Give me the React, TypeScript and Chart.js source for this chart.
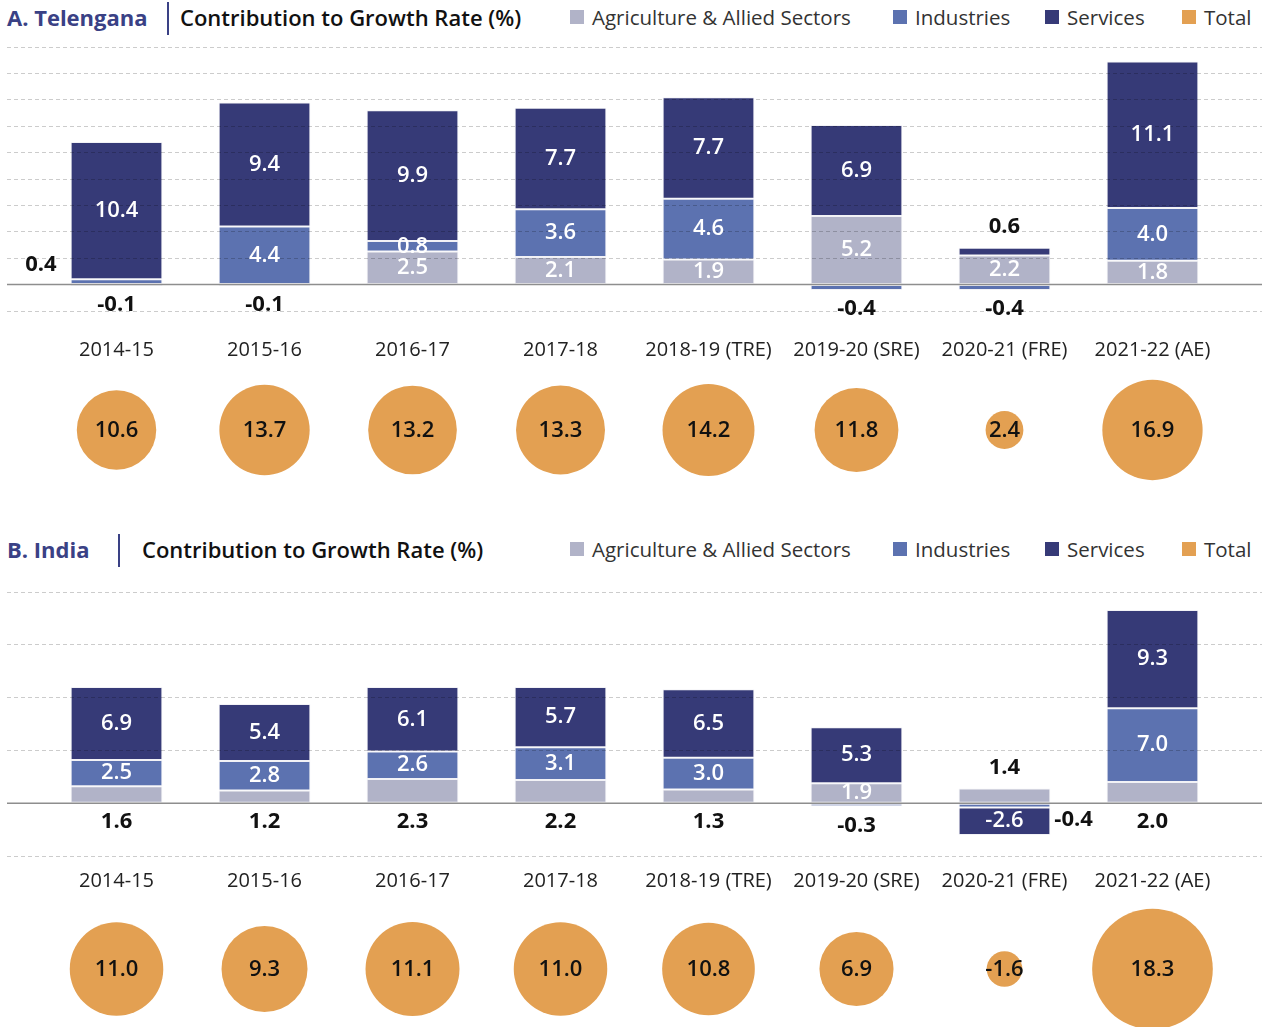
import React, { useEffect, useRef } from 'react';
import { Chart, registerables } from 'chart.js';
Chart.register(...registerables);

const categories = ['2014-15', '2015-16', '2016-17', '2017-18', '2018-19 (TRE)', '2019-20 (SRE)', '2020-21 (FRE)', '2021-22 (AE)'];
const seriesNames = ['Agriculture & Allied Sectors', 'Industries', 'Services', 'Total'];

// A. Telangana
const teAgri = [-0.1, -0.1, 2.5, 2.1, 1.9, 5.2, 2.2, 1.8];
const teInd = [0.4, 4.4, 0.8, 3.6, 4.6, -0.4, -0.4, 4.0];
const teServ = [10.4, 9.4, 9.9, 7.7, 7.7, 6.9, 0.6, 11.1];
const teTotal = [10.6, 13.7, 13.2, 13.3, 14.2, 11.8, 2.4, 16.9];

// B. India
const inAgri = [1.6, 1.2, 2.3, 2.2, 1.3, 1.9, 1.4, 2.0];
const inInd = [2.5, 2.8, 2.6, 3.1, 3.0, -0.3, -0.4, 7.0];
const inServ = [6.9, 5.4, 6.1, 5.7, 6.5, 5.3, -2.6, 9.3];
const inTotal = [11.0, 9.3, 11.1, 11.0, 10.8, 6.9, -1.6, 18.3];

type Pos = 'in' | 'below' | 'above' | 'left' | 'right';
// label placement per dataset (agri, industries, services)
const teLabelPos: Pos[][] = [
  ['below', 'below', 'in', 'in', 'in', 'in', 'in', 'in'],
  ['left', 'in', 'in', 'in', 'in', 'below', 'below', 'in'],
  ['in', 'in', 'in', 'in', 'in', 'in', 'above', 'in'],
];
const inLabelPos: Pos[][] = [
  ['below', 'below', 'below', 'below', 'below', 'in', 'above', 'below'],
  ['in', 'in', 'in', 'in', 'in', 'below', 'right', 'in'],
  ['in', 'in', 'in', 'in', 'in', 'in', 'in', 'in'],
];

const AGRI = '#b1b3c8';
const IND = '#5c72b0';
const SERV = '#363a77';
const TOTAL = '#e3a052';
const NAVY = '#3a4185';
const FONT = '"Open Sans", Lato, sans-serif';

const X_MIN = -0.74;
const X_MAX = 7.74;
const CANVAS_W = 1255;

function makeLabelPlugin(pos: Pos[][]) {
  return {
    id: 'segLabels',
    afterDraw(chart: any) {
      const { ctx, chartArea, scales } = chart;
      const y0 = scales.y.getPixelForValue(0);
      ctx.save();
      ctx.strokeStyle = '#8e8e8e';
      ctx.lineWidth = 1.5;
      ctx.beginPath();
      ctx.moveTo(chartArea.left, y0);
      ctx.lineTo(chartArea.right, y0);
      ctx.stroke();
      ctx.textBaseline = 'middle';
      chart.data.datasets.forEach((ds: any, di: number) => {
        chart.getDatasetMeta(di).data.forEach((el: any, i: number) => {
          const raw = ds.data[i].y as number;
          const p = el.getProps(['x', 'y', 'base', 'width'], true);
          const top = Math.min(p.y, p.base);
          const bot = Math.max(p.y, p.base);
          let tx = p.x;
          let ty = (top + bot) / 2;
          let align: CanvasTextAlign = 'center';
          let inside = true;
          switch (pos[di][i]) {
            case 'below': ty = bot + 19; inside = false; break;
            case 'above': ty = top - 21; inside = false; break;
            case 'left': tx = p.x - p.width / 2 - 14; ty = top - 15; align = 'right'; inside = false; break;
            case 'right': tx = p.x + p.width / 2 + 4; ty = bot + 12; align = 'left'; inside = false; break;
          }
          ctx.font = inside ? `600 22px ${FONT}` : `700 22px ${FONT}`;
          ctx.fillStyle = inside ? '#ffffff' : '#111111';
          ctx.textAlign = align;
          ctx.fillText(raw.toFixed(1), tx, ty);
        });
      });
      ctx.restore();
    },
  };
}

function makeBubbleLabelPlugin() {
  return {
    id: 'bubbleLabels',
    afterDraw(chart: any) {
      const { ctx } = chart;
      ctx.save();
      ctx.textAlign = 'center';
      ctx.textBaseline = 'middle';
      ctx.font = `600 22px ${FONT}`;
      ctx.fillStyle = '#111111';
      const ds = chart.data.datasets[0];
      chart.getDatasetMeta(0).data.forEach((el: any, i: number) => {
        const p = el.getProps(['x', 'y'], true);
        ctx.fillText(ds.raw[i].toFixed(1), p.x, p.y + 1);
      });
      ctx.restore();
    },
  };
}

function BarPanel(props: { top: number; height: number; tickPad: number; agri: number[]; ind: number[]; serv: number[]; pos: Pos[][]; yMin: number; yMax: number; step: number }) {
  const ref = useRef<HTMLCanvasElement>(null);
  useEffect(() => {
    const common = {
      borderColor: '#f2f2f6',
      borderWidth: 1,
      borderSkipped: false,
      categoryPercentage: 1,
      barPercentage: 0.62,
    };
    const toXY = (arr: number[]) => arr.map((v, i) => ({ x: i, y: v }));
    const chart = new Chart(ref.current!, {
      type: 'bar',
      data: {
        datasets: [
          { label: seriesNames[0], data: toXY(props.agri), backgroundColor: AGRI, ...common },
          { label: seriesNames[1], data: toXY(props.ind), backgroundColor: IND, ...common },
          { label: seriesNames[2], data: toXY(props.serv), backgroundColor: SERV, ...common },
        ] as any,
      },
      options: {
        responsive: false,
        animation: false,
        events: [],
        layout: { autoPadding: false, padding: { top: 7, bottom: 0, left: 0, right: 0 } },
        plugins: { legend: { display: false }, tooltip: { enabled: false } },
        scales: {
          x: {
            type: 'linear',
            stacked: true,
            offset: false,
            min: X_MIN,
            max: X_MAX,
            afterBuildTicks: (scale: any) => {
              scale.ticks = categories.map((_, i) => ({ value: i }));
            },
            grid: { display: false, drawTicks: false },
            border: { display: false },
            ticks: {
              autoSkip: false,
              maxRotation: 0,
              padding: props.tickPad,
              color: '#222222',
              font: { family: FONT, size: 20 },
              callback: (v: any) => categories[v as number] ?? '',
            },
          },
          y: {
            stacked: true,
            min: props.yMin,
            max: props.yMax,
            ticks: { display: false, stepSize: props.step },
            grid: {
              drawTicks: false,
              z: 1,
              lineWidth: 1,
              color: (c: any) => (c.tick && c.tick.value === 0 ? 'rgba(0,0,0,0)' : 'rgba(0,0,0,0.2)'),
            },
            border: { display: false, dash: [4, 3] },
          },
        },
      } as any,
      plugins: [makeLabelPlugin(props.pos)],
    });
    return () => chart.destroy();
  }, []);
  return <canvas ref={ref} width={CANVAS_W} height={props.height} style={{ position: 'absolute', left: 7, top: props.top }} />;
}

function BubbleRow(props: { top: number; height: number; totals: number[]; k: number }) {
  const ref = useRef<HTMLCanvasElement>(null);
  useEffect(() => {
    const chart = new Chart(ref.current!, {
      type: 'bubble',
      data: {
        datasets: [
          {
            label: seriesNames[3],
            raw: props.totals,
            data: props.totals.map((v, i) => ({ x: i, y: 0, r: props.k * Math.sqrt(Math.abs(v)) })),
            backgroundColor: TOTAL,
            borderWidth: 0,
            clip: false,
          } as any,
        ],
      },
      options: {
        responsive: false,
        animation: false,
        events: [],
        layout: { autoPadding: false, padding: 0 },
        plugins: { legend: { display: false }, tooltip: { enabled: false } },
        scales: {
          x: { type: 'linear', min: X_MIN, max: X_MAX, offset: false, display: false },
          y: { type: 'linear', min: -1, max: 1, display: false },
        },
      } as any,
      plugins: [makeBubbleLabelPlugin()],
    });
    return () => chart.destroy();
  }, []);
  return <canvas ref={ref} width={CANVAS_W} height={props.height} style={{ position: 'absolute', left: 7, top: props.top }} />;
}

const legendColors = [AGRI, IND, SERV, TOTAL];
const legendBoxX = [570, 893, 1045, 1182];

function Header(props: { top: number; region: string; sepX: number; titleX: number }) {
  const { top } = props;
  return (
    <>
      <div style={{ position: 'absolute', left: 7, top: top + 2, fontSize: 22, lineHeight: '30px', fontWeight: 700, color: NAVY, whiteSpace: 'nowrap' }}>
        {props.region}
      </div>
      <div style={{ position: 'absolute', left: props.sepX, top: top + 2, width: 2, height: 33, background: NAVY }} />
      <div style={{ position: 'absolute', left: props.titleX, top: top + 2, fontSize: 22, lineHeight: '30px', fontWeight: 600, color: '#111', whiteSpace: 'nowrap' }}>
        Contribution to Growth Rate (%)
      </div>
      {seriesNames.map((name, i) => (
        <React.Fragment key={name}>
          <div style={{ position: 'absolute', left: legendBoxX[i], top: top + 10, width: 14, height: 14, background: legendColors[i] }} />
          <div style={{ position: 'absolute', left: legendBoxX[i] + 22, top: top + 4, fontSize: 20.5, lineHeight: '26px', color: '#333', whiteSpace: 'nowrap' }}>
            {name}
          </div>
        </React.Fragment>
      ))}
    </>
  );
}

export default function App() {
  return (
    <div style={{ position: 'fixed', left: 0, top: 0, width: 1266, height: 1027, overflow: 'hidden', background: '#fff', fontFamily: FONT }}>
      <Header top={0} region="A. Telengana" sepX={167} titleX={180} />
      <BarPanel top={40} height={349} tickPad={27} agri={teAgri} ind={teInd} serv={teServ} pos={teLabelPos} yMin={-2} yMax={18} step={2} />
      <BubbleRow top={370} height={120} totals={teTotal} k={12.2} />
      <Header top={532} region="B. India" sepX={118} titleX={142} />
      <BarPanel top={585} height={321} tickPad={13} agri={inAgri} ind={inInd} serv={inServ} pos={inLabelPos} yMin={-5} yMax={20} step={5} />
      <BubbleRow top={904} height={130} totals={inTotal} k={14.1} />
    </div>
  );
}
